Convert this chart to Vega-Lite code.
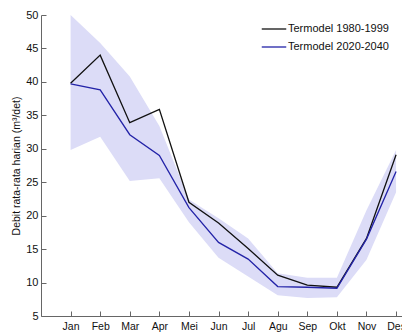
{
  "$schema": "https://vega.github.io/schema/vega-lite/v6.json",
  "autosize": "none",
  "width": 361,
  "height": 301,
  "padding": {"left": 41, "top": 15, "right": 0, "bottom": 17},
  "background": "white",
  "config": {
    "view": {"stroke": null},
    "font": "Liberation Sans",
    "axis": {"labelOverlap": false, "labelFlush": false, "labelBound": false}
  },
  "datasets": {
    "band": [
      {"m": 1, "lo": 29.8, "hi": 50.0},
      {"m": 2, "lo": 31.8, "hi": 45.8},
      {"m": 3, "lo": 25.2, "hi": 40.8},
      {"m": 4, "lo": 25.6, "hi": 33.4},
      {"m": 5, "lo": 19.0, "hi": 22.4},
      {"m": 6, "lo": 13.7, "hi": 19.6},
      {"m": 7, "lo": 10.9, "hi": 16.6},
      {"m": 8, "lo": 8.1, "hi": 11.4},
      {"m": 9, "lo": 7.7, "hi": 10.7},
      {"m": 10, "lo": 7.8, "hi": 10.7},
      {"m": 11, "lo": 13.4, "hi": 20.8},
      {"m": 12, "lo": 23.5, "hi": 29.8}
    ],
    "lines": [
      {"m": 1, "series": "Termodel 1980-1999", "v": 39.8},
      {"m": 2, "series": "Termodel 1980-1999", "v": 44.0},
      {"m": 3, "series": "Termodel 1980-1999", "v": 33.9},
      {"m": 4, "series": "Termodel 1980-1999", "v": 35.9},
      {"m": 5, "series": "Termodel 1980-1999", "v": 22.0},
      {"m": 6, "series": "Termodel 1980-1999", "v": 18.9},
      {"m": 7, "series": "Termodel 1980-1999", "v": 15.1},
      {"m": 8, "series": "Termodel 1980-1999", "v": 11.1},
      {"m": 9, "series": "Termodel 1980-1999", "v": 9.6},
      {"m": 10, "series": "Termodel 1980-1999", "v": 9.3},
      {"m": 11, "series": "Termodel 1980-1999", "v": 16.6},
      {"m": 12, "series": "Termodel 1980-1999", "v": 29.1},
      {"m": 1, "series": "Termodel 2020-2040", "v": 39.7},
      {"m": 2, "series": "Termodel 2020-2040", "v": 38.8},
      {"m": 3, "series": "Termodel 2020-2040", "v": 32.1},
      {"m": 4, "series": "Termodel 2020-2040", "v": 29.0},
      {"m": 5, "series": "Termodel 2020-2040", "v": 21.2},
      {"m": 6, "series": "Termodel 2020-2040", "v": 16.0},
      {"m": 7, "series": "Termodel 2020-2040", "v": 13.5},
      {"m": 8, "series": "Termodel 2020-2040", "v": 9.4},
      {"m": 9, "series": "Termodel 2020-2040", "v": 9.3},
      {"m": 10, "series": "Termodel 2020-2040", "v": 9.15},
      {"m": 11, "series": "Termodel 2020-2040", "v": 16.5},
      {"m": 12, "series": "Termodel 2020-2040", "v": 26.6}
    ]
  },
  "layer": [
    {
      "data": {"name": "band"},
      "mark": {"type": "area", "color": "#dcdcf7", "opacity": 1},
      "encoding": {
        "x": {
          "field": "m", "type": "quantitative",
          "scale": {"domain": [0, 12.2], "nice": false, "zero": false},
          "axis": {
            "title": null,
            "values": [1, 2, 3, 4, 5, 6, 7, 8, 9, 10, 11, 12],
            "tickCount": 12,
            "labelExpr": "['','Jan','Feb','Mar','Apr','Mei','Jun','Jul','Agu','Sep','Okt','Nov','Des'][datum.value]",
            "grid": false,
            "domainColor": "#666666",
            "tickColor": "#666666",
            "tickSize": -5,
            "labelPadding": 10,
            "labelFontSize": 10.5,
            "labelColor": "#111111"
          }
        },
        "y": {
          "field": "hi", "type": "quantitative",
          "scale": {"domain": [5, 50], "nice": false, "zero": false},
          "axis": {
            "title": "Debit rata-rata harian (m³/det)",
            "titleFontSize": 10.5,
            "titleFontWeight": "normal",
            "titleColor": "#111111",
            "titlePadding": 4,
            "values": [5, 10, 15, 20, 25, 30, 35, 40, 45, 50],
            "tickCount": 10,
            "grid": false,
            "domainColor": "#666666",
            "tickColor": "#666666",
            "tickSize": -5,
            "labelPadding": 8,
            "labelFontSize": 11,
            "labelColor": "#111111"
          }
        },
        "y2": {"field": "lo"}
      }
    },
    {
      "data": {"name": "lines"},
      "mark": {"type": "line", "strokeWidth": 1.3},
      "encoding": {
        "x": {"field": "m", "type": "quantitative"},
        "y": {"field": "v", "type": "quantitative"},
        "color": {
          "field": "series", "type": "nominal",
          "scale": {"domain": ["Termodel 1980-1999", "Termodel 2020-2040"], "range": ["#111111", "#2323a8"]},
          "legend": {
            "title": null,
            "orient": "none",
            "legendX": 220,
            "legendY": 1,
            "symbolType": "stroke",
            "symbolSize": 600,
            "symbolStrokeWidth": 1.3,
            "labelFontSize": 11,
            "labelColor": "#111111",
            "labelOffset": 1,
            "rowPadding": 0
          }
        }
      }
    }
  ]
}
